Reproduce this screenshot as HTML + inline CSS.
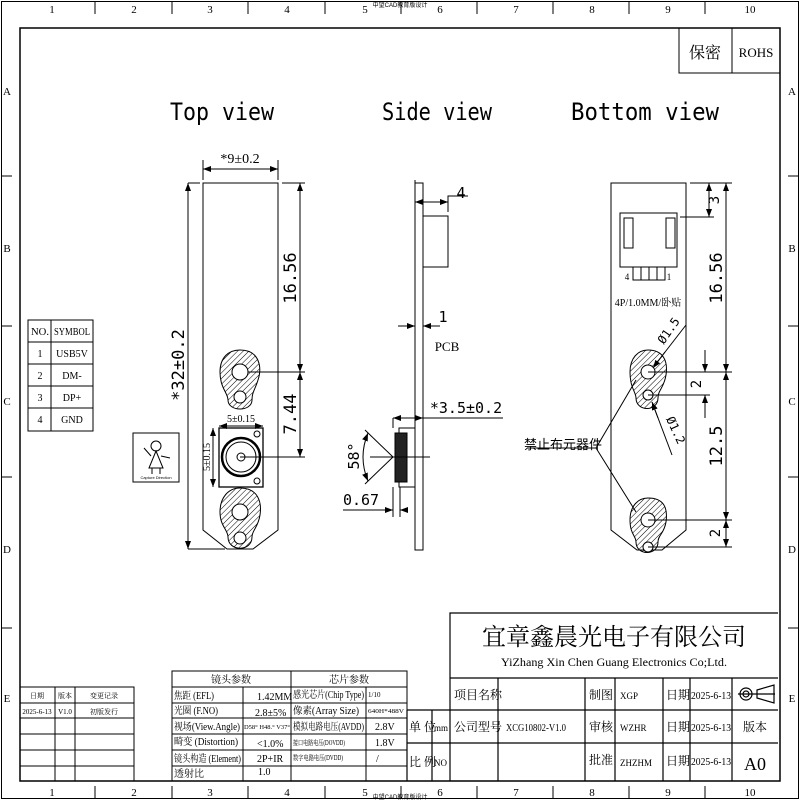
<!DOCTYPE html>
<html><head><meta charset="utf-8"><style>
html,body{margin:0;padding:0;background:#fff}
svg{display:block}
text{font-family:"Liberation Sans","Noto Sans CJK SC",sans-serif;fill:#000}
.s text,text.s{font-family:"Liberation Serif","Noto Serif CJK SC",serif}
.m text,text.m{font-family:"DejaVu Sans Mono","Liberation Mono",monospace}
</style></head><body>
<svg width="800" height="800" viewBox="0 0 800 800" xmlns="http://www.w3.org/2000/svg">
<defs>
<pattern id="h" width="4" height="4" patternUnits="userSpaceOnUse" patternTransform="rotate(45)"><line x1="0" y1="0" x2="0" y2="4" stroke="#000" stroke-width="1"/></pattern>
<marker id="a" markerWidth="8" markerHeight="6" refX="8" refY="3" orient="auto-start-reverse" markerUnits="userSpaceOnUse"><path d="M0,0L8,3L0,6z" fill="#000"/></marker>
</defs>
<g fill="none" stroke="#000" stroke-width="1">
<rect x="1.5" y="1.5" width="797" height="797"/>
<rect x="20" y="28" width="760" height="753" stroke-width="1.5"/>
<path d="M95,2V14M172,2V14M248,2V14M325,2V14M401,2V14M477,2V14M553,2V14M629,2V14M705,2V14"/>
<path d="M95,786V798M172,786V798M248,786V798M325,786V798M401,786V798M477,786V798M553,786V798M629,786V798M705,786V798"/>
<path d="M2,176H12M2,326H12M2,477H12M2,628H12M788,176H798M788,326H798M788,477H798M788,628H798"/>
<path d="M679,28V73H780M732,28V73"/>
</g>
<g class="s" font-size="11" text-anchor="middle">
<text x="52" y="13">1</text><text x="134" y="13">2</text><text x="210" y="13">3</text><text x="287" y="13">4</text><text x="365" y="13">5</text><text x="440" y="13">6</text><text x="516" y="13">7</text><text x="592" y="13">8</text><text x="668" y="13">9</text><text x="750" y="13">10</text>
<text x="52" y="796">1</text><text x="134" y="796">2</text><text x="210" y="796">3</text><text x="287" y="796">4</text><text x="365" y="796">5</text><text x="440" y="796">6</text><text x="516" y="796">7</text><text x="592" y="796">8</text><text x="668" y="796">9</text><text x="750" y="796">10</text>
<text x="7" y="95">A</text><text x="7" y="252">B</text><text x="7" y="405">C</text><text x="7" y="553">D</text><text x="7" y="702">E</text>
<text x="792" y="95">A</text><text x="792" y="252">B</text><text x="792" y="405">C</text><text x="792" y="553">D</text><text x="792" y="702">E</text>
<text x="705" y="58" font-size="16">保密</text><text x="756" y="57" font-size="13">ROHS</text>
</g>
<text x="400" y="7" font-size="6" fill="#888" text-anchor="middle">中望CAD教育版设计</text>
<text x="400" y="799" font-size="6" fill="#888" text-anchor="middle">中望CAD教育版设计</text>

<g class="m" font-size="24" text-anchor="middle">
<text x="222" y="120" textLength="104" lengthAdjust="spacingAndGlyphs">Top view</text><text x="437" y="120" textLength="110" lengthAdjust="spacingAndGlyphs">Side view</text><text x="645" y="120" textLength="148" lengthAdjust="spacingAndGlyphs">Bottom view</text>
</g>

<!-- TOP VIEW -->
<g fill="none" stroke="#000" stroke-width="1">
<path d="M203,183H278V530L253,549H227L203,530Z"/>
<path d="M203,180V160M278,180V160M188,183H200M188,549H225M282,183H305M240,372H305M240,457H305"/>
<line x1="203" y1="169" x2="278" y2="169" marker-start="url(#a)" marker-end="url(#a)"/>
<line x1="188" y1="183" x2="188" y2="549" marker-start="url(#a)" marker-end="url(#a)"/>
<line x1="300" y1="183" x2="300" y2="372" marker-start="url(#a)" marker-end="url(#a)"/>
<line x1="300" y1="372" x2="300" y2="457" marker-start="url(#a)" marker-end="url(#a)"/>
<path d="M240,350C260,350 262,368 258,380C255,390 252,392 252,400C252,412 228,412 228,400C228,393 220,388 220,372C220,358 228,350 240,350Z" fill="url(#h)"/>
<circle cx="240" cy="372" r="8" fill="#fff"/><circle cx="240" cy="397" r="6" fill="#fff"/>
<path d="M240,488C258,488 262,502 260,515C258,528 252,530 252,537C252,552 228,552 228,537C228,530 220,526 220,512C220,498 228,488 240,488Z" fill="url(#h)"/>
<circle cx="240" cy="512" r="8" fill="#fff"/><circle cx="240" cy="538" r="6" fill="#fff"/>
<rect x="219" y="428" width="44" height="59" stroke-width="1.3"/>
<circle cx="241" cy="457" r="19" stroke-width="2.5"/><circle cx="241" cy="457" r="15"/><circle cx="241" cy="457" r="4"/>
<circle cx="257" cy="434" r="3"/><circle cx="257" cy="481" r="3"/>
<line x1="219" y1="426" x2="263" y2="426" marker-start="url(#a)" marker-end="url(#a)"/>
<line x1="213" y1="428" x2="213" y2="487" marker-start="url(#a)" marker-end="url(#a)"/>
<rect x="133" y="433" width="46" height="49"/>
<circle cx="156" cy="446" r="5"/><path d="M156,451L149,468H163Z M152,468V474M160,468V474M151,456L144,448M161,456L170,458"/>
</g>
<text x="240" y="163" class="s" font-size="14" text-anchor="middle">*9±0.2</text>
<text x="241" y="422" class="s" font-size="10" text-anchor="middle">5±0.15</text>
<text class="s" font-size="10" text-anchor="middle" transform="translate(210,457) rotate(-90)">5±0.15</text>
<text class="m" font-size="17" text-anchor="middle" transform="translate(184,365) rotate(-90)">*32±0.2</text>
<text class="m" font-size="17" text-anchor="middle" transform="translate(296,278) rotate(-90)">16.56</text>
<text class="m" font-size="17" text-anchor="middle" transform="translate(296,414) rotate(-90)">7.44</text>
<text x="156" y="479" font-size="4" text-anchor="middle">Capture Direction</text>

<!-- SIDE VIEW -->
<g fill="none" stroke="#000" stroke-width="1">
<rect x="415" y="183" width="8" height="367"/>
<rect x="423" y="216" width="25" height="51"/>
<path d="M448,212V196H468M415,200V180M423,320V340M398,326H415M415,326V300"/>
<line x1="415" y1="202" x2="448" y2="202" marker-start="url(#a)" marker-end="url(#a)"/>
<line x1="398" y1="326" x2="415" y2="326" marker-end="url(#a)"/>
<line x1="440" y1="326" x2="423" y2="326" marker-end="url(#a)"/>
<path d="M423,418H503M393,418V428"/>
<line x1="393" y1="418" x2="423" y2="418" marker-start="url(#a)" marker-end="url(#a)"/>
<rect x="399" y="428" width="16" height="59"/>
<rect x="395" y="433" width="12" height="49" fill="#222"/>
<path d="M393,457L365,430M393,457L365,484M370,457H430"/>
<path d="M368,433Q358,457 368,481" marker-start="url(#a)" marker-end="url(#a)"/>
<path d="M393,487V517M400,487V517M343,510H385"/>
<line x1="385" y1="510" x2="393" y2="510" marker-end="url(#a)"/>
<line x1="408" y1="510" x2="400" y2="510" marker-end="url(#a)"/>
</g>
<text x="461" y="198" class="m" font-size="15" text-anchor="middle">4</text>
<text x="443" y="322" class="m" font-size="15" text-anchor="middle">1</text>
<text x="447" y="351" class="s" font-size="13" text-anchor="middle">PCB</text>
<text x="466" y="413" class="m" font-size="15" text-anchor="middle">*3.5±0.2</text>
<text class="m" font-size="15" text-anchor="middle" transform="translate(359,456) rotate(-90)">58°</text>
<text x="361" y="505" class="m" font-size="15" text-anchor="middle">0.67</text>

<!-- BOTTOM VIEW -->
<g fill="none" stroke="#000" stroke-width="1">
<path d="M611,183H686V530L662,550H637L611,530Z"/>
<rect x="620" y="213" width="57" height="54"/>
<rect x="624" y="218" width="9" height="30"/><rect x="666" y="218" width="9" height="30"/>
<rect x="633" y="267" width="8" height="13"/><rect x="641" y="267" width="8" height="13"/><rect x="649" y="267" width="8" height="13"/><rect x="657" y="267" width="8" height="13"/>
<path d="M648,350C664,350 668,362 666,375C664,388 658,390 658,398C658,412 636,412 636,398C636,392 630,388 630,372C630,358 638,350 648,350Z" fill="url(#h)"/>
<circle cx="648" cy="372" r="7" fill="#fff"/><circle cx="648" cy="395" r="5" fill="#fff"/>
<path d="M648,498C664,498 668,508 666,522C664,534 658,535 658,542C658,556 636,556 636,542C636,536 630,534 630,520C630,506 638,498 648,498Z" fill="url(#h)"/>
<circle cx="648" cy="520" r="7" fill="#fff"/><circle cx="648" cy="547" r="5" fill="#fff"/>
<path d="M690,183H732M680,217H714M648,372H732M648,395H710M648,520H732M648,547H732"/>
<line x1="709" y1="183" x2="709" y2="217" marker-start="url(#a)" marker-end="url(#a)"/>
<line x1="726" y1="183" x2="726" y2="372" marker-start="url(#a)" marker-end="url(#a)"/>
<line x1="726" y1="372" x2="726" y2="520" marker-start="url(#a)" marker-end="url(#a)"/>
<line x1="726" y1="520" x2="726" y2="547" marker-start="url(#a)" marker-end="url(#a)"/>
<path d="M705,350V372M705,395V418"/>
<line x1="705" y1="360" x2="705" y2="372" marker-end="url(#a)"/>
<line x1="705" y1="408" x2="705" y2="395" marker-end="url(#a)"/>
<path d="M686,325L655,365"/><line x1="665" y1="352" x2="653" y2="368" marker-end="url(#a)"/>
<path d="M672,455L652,402"/><line x1="658" y1="418" x2="652" y2="402" marker-end="url(#a)"/>
<path d="M527,448H596L636,380M596,448L636,512"/>
</g>
<text x="627" y="280" class="s" font-size="9" text-anchor="middle">4</text>
<text x="669" y="280" class="s" font-size="9" text-anchor="middle">1</text>
<text x="648" y="306" class="s" font-size="10" text-anchor="middle">4P/1.0MM/卧贴</text>
<text class="m" font-size="14" text-anchor="middle" transform="translate(719,200) rotate(-90)">3</text>
<text class="m" font-size="17" text-anchor="middle" transform="translate(722,278) rotate(-90)">16.56</text>
<text class="m" font-size="17" text-anchor="middle" transform="translate(722,446) rotate(-90)">12.5</text>
<text class="m" font-size="14" text-anchor="middle" transform="translate(720,533) rotate(-90)">2</text>
<text class="m" font-size="14" text-anchor="middle" transform="translate(701,384) rotate(-90)">2</text>
<text class="m" font-size="12" text-anchor="middle" transform="translate(672,333) rotate(-55)">Ø1.5</text>
<text class="m" font-size="12" text-anchor="middle" transform="translate(672,432) rotate(65)">Ø1.2</text>
<text x="563" y="449" font-size="13" text-anchor="middle">禁止布元器件</text>

<!-- PIN TABLE -->
<g fill="none" stroke="#000" stroke-width="1">
<rect x="28" y="320" width="65" height="111"/>
<path d="M51,320V431M28,342H93M28,364H93M28,386H93M28,408H93"/>
</g>
<g class="s" font-size="10" text-anchor="middle">
<text x="40" y="335" textLength="18" lengthAdjust="spacingAndGlyphs">NO.</text><text x="72" y="335" textLength="36" lengthAdjust="spacingAndGlyphs">SYMBOL</text>
<text x="40" y="357">1</text><text x="72" y="357">USB5V</text>
<text x="40" y="379">2</text><text x="72" y="379">DM-</text>
<text x="40" y="401">3</text><text x="72" y="401">DP+</text>
<text x="40" y="423">4</text><text x="72" y="423">GND</text>
</g>

<!-- CHANGE RECORD -->
<g fill="none" stroke="#000" stroke-width="1">
<path d="M20,687H134V781M55,687V781M75,687V781M20,703H134M20,718H134M20,734H134M20,750H134M20,766H134"/>
</g>
<g class="s" font-size="7" text-anchor="middle">
<text x="37" y="698">日期</text><text x="65" y="698">版本</text><text x="104" y="698">变更记录</text>
<text x="37" y="714" fill="#555">2025-6-13</text><text x="65" y="714">V1.0</text><text x="104" y="714">初版发行</text>
</g>

<!-- PARAMS -->
<g fill="none" stroke="#000" stroke-width="1">
<rect x="172" y="671" width="235" height="110"/>
<path d="M172,687H407M172,703H407M172,718H407M172,734H407M172,750H407M172,766H407M243,687V781M291,671V781M366,687V781"/>
</g>
<g class="s" font-size="10">
<text x="231" y="683" text-anchor="middle">镜头参数</text><text x="349" y="683" text-anchor="middle">芯片参数</text>
<text x="174" y="699" textLength="40" lengthAdjust="spacingAndGlyphs">焦距 (EFL)</text><text x="257" y="700">1.42MM</text><text x="293" y="698" textLength="71" lengthAdjust="spacingAndGlyphs">感光芯片(Chip Type)</text><text x="368" y="697" font-size="7">1/10</text>
<text x="174" y="714" textLength="44" lengthAdjust="spacingAndGlyphs">光圈 (F.NO)</text><text x="255" y="716">2.8±5%</text><text x="293" y="714" textLength="66" lengthAdjust="spacingAndGlyphs">像素(Array Size)</text><text x="368" y="713" font-size="6" textLength="36" lengthAdjust="spacingAndGlyphs">640H*488V</text>
<text x="174" y="730" textLength="66" lengthAdjust="spacingAndGlyphs">视场(View.Angle)</text><text x="244" y="729" font-size="6" textLength="46" lengthAdjust="spacingAndGlyphs">D58° H48.° V37°</text><text x="293" y="730" textLength="71" lengthAdjust="spacingAndGlyphs">模拟电路电压(AVDD)</text><text x="375" y="730">2.8V</text>
<text x="174" y="745" textLength="64" lengthAdjust="spacingAndGlyphs">畸变 (Distortion)</text><text x="257" y="747">&lt;1.0%</text><text x="293" y="745" font-size="7" textLength="52" lengthAdjust="spacingAndGlyphs">接口电路电压(DOVDD)</text><text x="375" y="746">1.8V</text>
<text x="174" y="762" textLength="67" lengthAdjust="spacingAndGlyphs">镜头构造 (Element)</text><text x="257" y="762">2P+IR</text><text x="293" y="760" font-size="7" textLength="50" lengthAdjust="spacingAndGlyphs">数字电路电压(DVDD)</text><text x="376" y="762">/</text>
<text x="174" y="777">透射比</text><text x="258" y="775">1.0</text>
</g>

<!-- TITLE BLOCK -->
<g fill="none" stroke="#000" stroke-width="1.2">
<path d="M450,781V613H778M450,678H778M407,710H778M407,743H778M407,710V781M432,710V781M498,678V781M585,678V781M615,678V781M663,678V781M690,678V781M732,678V781"/>
<circle cx="746" cy="694" r="6"/><circle cx="746" cy="694" r="3"/><path d="M738,694H775M757,690L774,685V703L757,698Z"/>
</g>
<text x="614" y="645" font-size="24" text-anchor="middle" class="s">宜章鑫晨光电子有限公司</text>
<text x="614" y="666" font-size="12" text-anchor="middle" class="s" textLength="226" lengthAdjust="spacingAndGlyphs">YiZhang Xin Chen Guang Electronics Co;Ltd.</text>
<g class="s" font-size="12">
<text x="454" y="699">项目名称</text><text x="589" y="699">制图</text><text x="620" y="699" font-size="9">XGP</text><text x="666" y="699">日期</text><text x="691" y="699" font-size="11" textLength="40" lengthAdjust="spacingAndGlyphs">2025-6-13</text>
<text x="409" y="731">单 位</text><text x="434" y="731" font-size="9">mm</text><text x="454" y="731">公司型号</text><text x="506" y="731" font-size="10" textLength="60" lengthAdjust="spacingAndGlyphs">XCG10802-V1.0</text><text x="589" y="731">审核</text><text x="620" y="731" font-size="9">WZHR</text><text x="666" y="731">日期</text><text x="691" y="731" font-size="11" textLength="40" lengthAdjust="spacingAndGlyphs">2025-6-13</text><text x="755" y="731" text-anchor="middle">版本</text>
<text x="409" y="766">比 例</text><text x="434" y="766" font-size="9">NO</text><text x="589" y="764">批准</text><text x="620" y="766" font-size="9">ZHZHM</text><text x="666" y="765">日期</text><text x="691" y="765" font-size="11" textLength="40" lengthAdjust="spacingAndGlyphs">2025-6-13</text><text x="755" y="770" font-size="18" text-anchor="middle">A0</text>
</g>
</svg>
</body></html>
